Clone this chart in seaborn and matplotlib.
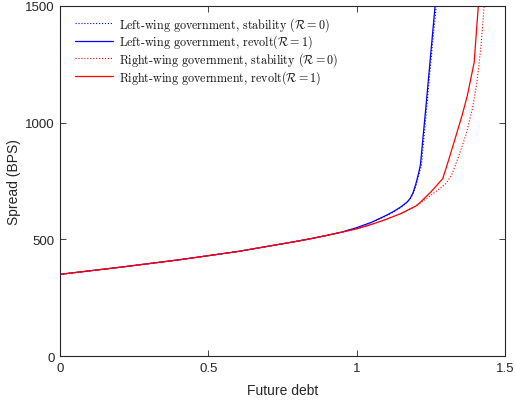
import matplotlib
matplotlib.use("Agg")
import matplotlib.pyplot as plt
import seaborn as sns
import pandas as pd

# Common part of the spread schedule (all four cases coincide at low debt)
base_debt = [0.0, 0.1, 0.2, 0.3, 0.4, 0.5, 0.6, 0.7, 0.8, 0.85, 0.9, 0.95]
base_spread = [350, 365, 380, 396, 412, 430, 448, 470, 492, 504, 517, 531]

left_stab_debt = [1.0, 1.05, 1.1, 1.125, 1.15, 1.17, 1.18, 1.19, 1.2, 1.21, 1.218, 1.235, 1.255, 1.27, 1.285]
left_stab_spread = [549, 572, 601, 618, 638, 658, 672, 695, 730, 780, 815, 1050, 1330, 1520, 1700]

left_rev_debt = [1.0, 1.05, 1.1, 1.125, 1.15, 1.17, 1.18, 1.19, 1.2, 1.21, 1.215, 1.235, 1.255, 1.27, 1.28]
left_rev_spread = [550, 573, 603, 620, 640, 660, 675, 700, 740, 790, 821, 1090, 1370, 1580, 1700]

right_stab_debt = [1.0, 1.05, 1.1, 1.15, 1.2, 1.25, 1.3, 1.32, 1.345, 1.37, 1.39, 1.405, 1.418, 1.43, 1.44]
right_stab_spread = [545, 564, 586, 611, 643, 688, 738, 775, 860, 955, 1059, 1170, 1315, 1500, 1650]

right_rev_debt = [1.0, 1.05, 1.1, 1.15, 1.2, 1.213, 1.25, 1.29, 1.31, 1.335, 1.355, 1.373, 1.396, 1.41, 1.42]
right_rev_spread = [545, 564, 586, 611, 643, 657, 703, 760, 840, 945, 1030, 1116, 1258, 1500, 1650]

labels = [
    r"Left-wing government, stability ($\mathcal{R}=0$)",
    r"Left-wing government, revolt($\mathcal{R}=1$)",
    r"Right-wing government, stability ($\mathcal{R}=0$)",
    r"Right-wing government, revolt($\mathcal{R}=1$)",
]


def series(debt, spread):
    return pd.DataFrame({"debt": base_debt + debt, "spread": base_spread + spread})


sns.set_theme(style="white")
plt.rcParams["font.family"] = ["Liberation Sans", "DejaVu Sans"]
plt.rcParams["mathtext.fontset"] = "cm"

fig = plt.figure(figsize=(5.16, 4.02), dpi=100)
ax = fig.add_axes([0.1163, 0.1119, 0.8624, 0.8707])

specs = [
    (series(left_stab_debt, left_stab_spread), "#0000ff", ":", 0.8),
    (series(left_rev_debt, left_rev_spread), "#0000ff", "-", 0.9),
    (series(right_stab_debt, right_stab_spread), "#ff0000", ":", 0.8),
    (series(right_rev_debt, right_rev_spread), "#ff0000", "-", 0.9),
]
for (df, color, ls, lw), lab in zip(specs, labels):
    sns.lineplot(data=df, x="debt", y="spread", ax=ax, color=color,
                 linestyle=ls, linewidth=lw, label=lab, sort=False,
                 estimator=None)

ax.set_xlim(0, 1.5)
ax.set_ylim(0, 1500)
ax.set_xticks([0, 0.5, 1, 1.5])
ax.set_xticklabels(["0", "0.5", "1", "1.5"])
ax.set_yticks([0, 500, 1000, 1500])
ax.set_xlabel("Future debt", fontsize=10, color="#262626", labelpad=7)
ax.set_ylabel("Spread (BPS)", fontsize=10, color="#262626", labelpad=3)

for sp in ax.spines.values():
    sp.set_visible(True)
    sp.set_color("#262626")
    sp.set_linewidth(0.8)
ax.tick_params(direction="in", length=4, width=0.6, colors="#262626",
               labelsize=9.5, top=True, right=True, bottom=True, left=True,
               pad=4)

leg = ax.legend(loc="upper left", frameon=False, fontsize=8.7,
                handlelength=3.1, handletextpad=0.55, labelspacing=0.0,
                borderpad=0.0, borderaxespad=0.0,
                bbox_to_anchor=(0.034, 0.975))
for t in leg.get_texts():
    t.set_fontfamily(["cmr10"])
    t.set_color("#111111")

fig.savefig("out.png", dpi=100)
